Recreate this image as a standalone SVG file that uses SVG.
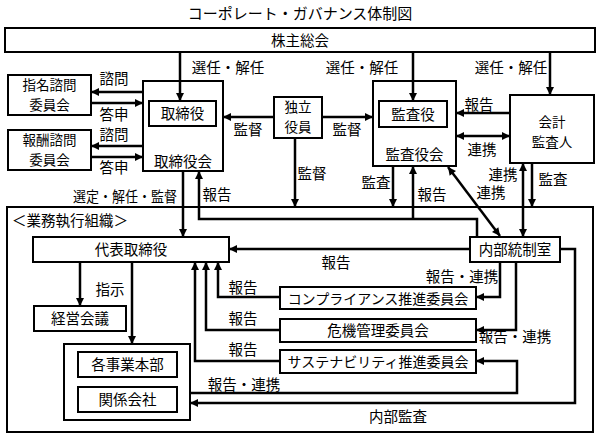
<svg xmlns="http://www.w3.org/2000/svg" width="600" height="438" viewBox="0 0 600 438">
<defs>
<marker id="ah" viewBox="0 0 10 10" refX="10" refY="5" markerWidth="9" markerHeight="8" markerUnits="userSpaceOnUse" orient="auto-start-reverse">
<path d="M0,0 L10,5 L0,10 Z" fill="#000"/>
</marker>
<style>
text{font-family:"Noto Sans CJK JP","Noto Sans CJK SC",sans-serif;font-size:14.5px;fill:#000;text-anchor:middle}
.box{fill:#fff;stroke:#000;stroke-width:2}
.frame{fill:none;stroke:#000;stroke-width:2}
.c{fill:none;stroke:#000;stroke-width:2.5}
.a{marker-end:url(#ah)}
.d{marker-start:url(#ah);marker-end:url(#ah)}
.l{text-anchor:start}
.s{font-size:13.5px}
</style>
</defs>
<rect width="600" height="438" fill="#fff"/>
<text id="title" x="300" y="19" style="font-size:15px">コーポレート・ガバナンス体制図</text>

<g id="n-soukai"><rect class="box" x="5" y="28" width="590" height="24"/><text x="300" y="45.5">株主総会</text></g>
<g id="n-gyomu"><rect class="frame" x="7" y="207" width="586" height="225"/><text class="l" x="12" y="226">＜業務執行組織＞</text></g>
<g id="n-torishimariyakukai"><rect class="box" x="143" y="81" width="80" height="90"/><text x="183" y="167">取締役会</text></g>
<g id="n-torishimariyaku"><rect class="box" x="149" y="101" width="67" height="25"/><text x="182.5" y="119">取締役</text></g>
<g id="n-shimei"><rect class="box" x="8" y="75" width="83" height="40"/><text class="s" x="49.5" y="90">指名諮問</text><text class="s" x="49.5" y="110">委員会</text></g>
<g id="n-houshu"><rect class="box" x="8" y="130" width="83" height="40"/><text class="s" x="49.5" y="145">報酬諮問</text><text class="s" x="49.5" y="165">委員会</text></g>
<g id="n-dokuritsu"><rect class="box" x="274" y="97" width="48" height="41"/><text class="s" x="298" y="112">独立</text><text class="s" x="298" y="132">役員</text></g>
<g id="n-kansayakukai"><rect class="box" x="373" y="81" width="83" height="85"/><text x="414.5" y="159.5">監査役会</text></g>
<g id="n-kansayaku"><rect class="box" x="379" y="101" width="68" height="26"/><text x="413" y="119.5">監査役</text></g>
<g id="n-kaikei"><rect class="box" x="510" y="95" width="84" height="68"/><text class="s" x="552" y="127">会計</text><text class="s" x="552" y="147">監査人</text></g>
<g id="n-daihyo"><rect class="box" x="33" y="237" width="196" height="25"/><text x="131" y="255">代表取締役</text></g>
<g id="n-naibu"><rect class="box" x="470" y="237" width="90" height="25"/><text x="515" y="255">内部統制室</text></g>
<g id="n-keiei"><rect class="box" x="34" y="306" width="92" height="25"/><text x="80" y="324">経営会議</text></g>
<g id="n-group"><rect class="box" x="64" y="344" width="126" height="76"/></g>
<g id="n-jigyou"><rect class="box" x="78" y="352" width="99" height="25"/><text x="127.5" y="370">各事業本部</text></g>
<g id="n-kankei"><rect class="box" x="78" y="387" width="99" height="25"/><text x="127.5" y="405">関係会社</text></g>
<g id="n-comp"><rect class="box" x="280" y="287" width="196" height="22"/><text x="378" y="303.5" style="font-size:14px">コンプライアンス推進委員会</text></g>
<g id="n-kiki"><rect class="box" x="280" y="319" width="196" height="23"/><text x="378" y="336">危機管理委員会</text></g>
<g id="n-sus"><rect class="box" x="280" y="350" width="196" height="23"/><text x="378" y="367" style="font-size:14px">サステナビリティ推進委員会</text></g>

<g id="connectors">
<path class="c a" d="M180,52 V101"/>
<path class="c a" d="M413,52 V101"/>
<path class="c a" d="M550,52 V95"/>
<path class="c a" d="M143,92 H91"/>
<path class="c a" d="M91,103 H143"/>
<path class="c a" d="M143,146 H91"/>
<path class="c a" d="M91,157 H143"/>
<path class="c a" d="M274,117 H223"/>
<path class="c a" d="M322,117 H373"/>
<path class="c a" d="M295,138 V207"/>
<path class="c a" d="M510,113 H456"/>
<path class="c d" d="M456,136 H510"/>
<path class="c a" d="M393,166 V207"/>
<path class="c a" d="M477,237 V219 H199 V171"/>
<path class="c a" d="M413,219 V166"/>
<path class="c d" d="M448,167 L500,236"/>
<path class="c d" d="M523,163 V237"/>
<path class="c a" d="M532,163 V207"/>
<path class="c a" d="M183,171 V237"/>
<path class="c a" d="M470,249 H229"/>
<path class="c a" d="M80,262 V306"/>
<path class="c a" d="M132,262 V344"/>
<path class="c a" d="M280,297 H218 V262"/>
<path class="c a" d="M280,330 H206 V262"/>
<path class="c a" d="M280,361 H195 V262"/>
<path class="c a" d="M500,262 V297 H476"/>
<path class="c a" d="M516,262 V330 H476"/>
<path class="c a" d="M190,393 H517 V361 H476"/>
<path class="c a" d="M560,249 H575 V403 H190"/>
</g>

<g id="labels">
<text x="228" y="73">選任・解任</text>
<text x="362" y="73">選任・解任</text>
<text x="511" y="73">選任・解任</text>
<text x="114" y="84">諮問</text>
<text x="114" y="120">答申</text>
<text x="114" y="140">諮問</text>
<text x="114" y="173">答申</text>
<text x="248" y="135">監督</text>
<text x="347" y="135">監督</text>
<text x="312" y="179">監督</text>
<text x="479" y="110">報告</text>
<text x="482" y="155">連携</text>
<text x="376" y="188">監査</text>
<text x="432" y="200">報告</text>
<text x="491" y="198">連携</text>
<text x="503" y="180">連携</text>
<text x="553" y="185">監査</text>
<text x="125" y="202" textLength="104" lengthAdjust="spacingAndGlyphs">選定・解任・監督</text>
<text x="217" y="200">報告</text>
<text x="336" y="268">報告</text>
<text x="462" y="282">報告・連携</text>
<text x="515" y="342">報告・連携</text>
<text x="110" y="295">指示</text>
<text x="243" y="293">報告</text>
<text x="243" y="324">報告</text>
<text x="243" y="355">報告</text>
<text x="244" y="390">報告・連携</text>
<text x="398" y="422">内部監査</text>
</g>
</svg>
